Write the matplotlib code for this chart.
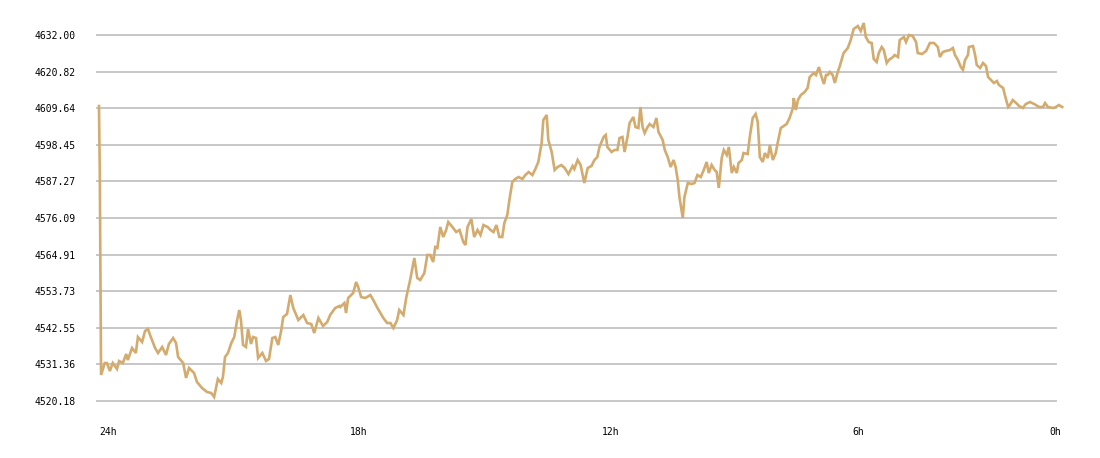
import matplotlib
matplotlib.use("Agg")
import matplotlib.pyplot as plt
import matplotlib.transforms as mtransforms

# hours ago (24h -> 0h) and price
hours_ago = [
    24.00, 23.98, 23.95, 23.86, 23.81, 23.74, 23.67, 23.57, 23.52, 23.43,
    23.35, 23.31, 23.21, 23.12, 23.07, 22.97, 22.90, 22.83, 22.78, 22.66,
    22.59, 22.49, 22.40, 22.33, 22.23, 22.16, 22.11, 21.99, 21.92, 21.85,
    21.73, 21.66, 21.54, 21.42, 21.32, 21.25, 21.16, 21.08, 21.04, 20.99,
    20.92, 20.84, 20.77, 20.70, 20.65, 20.61, 20.56, 20.49, 20.44, 20.37,
    20.32, 20.25, 20.20, 20.10, 20.01, 19.94, 19.86, 19.79, 19.72, 19.65,
    19.60, 19.51, 19.43, 19.36, 19.24, 19.12, 19.03, 18.93, 18.86, 18.76,
    18.65, 18.55, 18.48, 18.36, 18.26,
    18.24, 18.14, 18.10, 18.05, 17.93, 17.86, 17.81, 17.74, 17.64, 17.52,
    17.45, 17.35, 17.28, 17.21, 17.12, 17.04, 16.97, 16.88, 16.83, 16.73,
    16.66, 16.57, 16.47, 16.40, 16.33, 16.23, 16.16, 16.09, 16.02, 15.97,
    15.92, 15.85, 15.78, 15.71, 15.66, 15.56, 15.47, 15.39, 15.30, 15.25,
    15.20, 15.11, 15.04, 14.96, 14.89, 14.82, 14.72, 14.65, 14.58, 14.51,
    14.44, 14.37, 14.32, 14.25, 14.20, 14.13, 14.06, 13.98, 13.89, 13.82,
    13.74, 13.65, 13.58, 13.51, 13.43, 13.39, 13.31, 13.27, 13.19, 13.12,
    13.05, 12.96, 12.88, 12.79, 12.69, 12.65, 12.57, 12.50, 12.41, 12.33,
    12.24, 12.17, 12.10, 12.05,
    11.95, 11.90, 11.86, 11.76, 11.69, 11.62, 11.57, 11.50, 11.45, 11.38,
    11.33, 11.24, 11.19, 11.12, 11.07, 11.02, 10.97, 10.90, 10.85, 10.76,
    10.69, 10.64, 10.54, 10.49, 10.42, 10.35, 10.28, 10.23, 10.18, 10.14,
    10.06, 10.02, 9.94, 9.85, 9.78, 9.71, 9.63, 9.56, 9.49, 9.44,
    9.37, 9.30, 9.25, 9.20, 9.13, 9.08, 9.01, 8.96, 8.89, 8.84,
    8.77, 8.73, 8.65, 8.61, 8.51, 8.46, 8.39, 8.32, 8.27, 8.22,
    8.15, 8.10, 8.03, 7.98, 7.91, 7.84, 7.79, 7.72, 7.65, 7.58,
    7.51, 7.43, 7.41, 7.36, 7.31, 7.24, 7.15, 7.08, 7.03, 6.93,
    6.88, 6.81, 6.76, 6.69, 6.64, 6.60, 6.55,
    6.48, 6.43, 6.36, 6.31, 6.22, 6.12, 6.05, 5.98, 5.88, 5.81,
    5.74, 5.69, 5.62, 5.55, 5.50, 5.43, 5.38, 5.31, 5.26, 5.19,
    5.14, 5.04, 5.00, 4.92, 4.88, 4.78, 4.73, 4.66, 4.57, 4.49,
    4.45, 4.35, 4.25, 4.16, 4.06, 3.97, 3.92, 3.85, 3.78, 3.68,
    3.61, 3.56, 3.49, 3.42, 3.37, 3.32, 3.25, 3.23, 3.13, 3.08,
    3.04, 2.96, 2.89, 2.82, 2.77, 2.70, 2.63, 2.56, 2.51, 2.41,
    2.37, 2.29, 2.25, 2.18, 2.10, 2.03, 1.94, 1.87, 1.77, 1.67,
    1.55, 1.46, 1.41, 1.34, 1.22, 1.15, 1.08, 1.00,
]

price = [
    4610.31, 4589.84, 4528.13, 4531.79, 4531.79, 4529.35, 4531.79, 4529.96, 4532.40, 4531.79,
    4534.54, 4532.71, 4536.38, 4534.85, 4539.73, 4538.21, 4541.56, 4542.18, 4540.34, 4536.38,
    4534.85, 4536.68, 4534.24, 4537.60, 4539.43, 4537.90, 4533.62, 4531.79, 4527.21, 4530.27,
    4528.74, 4525.99, 4524.16, 4522.93, 4522.63, 4521.41, 4526.91, 4525.68, 4527.52, 4533.62,
    4534.85, 4537.90, 4539.73, 4544.93, 4547.98, 4544.93, 4537.29, 4536.68, 4542.18, 4537.60,
    4539.73, 4539.43, 4533.32, 4534.85, 4532.40, 4533.01, 4539.43, 4539.73, 4537.29, 4541.56,
    4545.84, 4546.76, 4552.56, 4548.59, 4544.93, 4546.45, 4544.01, 4543.70, 4540.95, 4545.54,
    4543.09, 4544.31, 4546.45, 4548.59, 4549.21,
    4548.90, 4550.12, 4547.07, 4551.65, 4553.18, 4556.54, 4555.01, 4551.95, 4551.65, 4552.56,
    4551.04, 4548.59, 4547.07, 4545.54, 4544.01, 4544.01, 4542.48, 4544.93, 4547.98, 4546.45,
    4551.95, 4557.15, 4563.87, 4557.76, 4557.15, 4559.29, 4564.79, 4564.79, 4562.65, 4567.23,
    4566.93, 4573.34, 4570.29, 4572.42, 4574.86, 4573.34, 4571.81, 4572.42, 4568.76, 4567.84,
    4573.34, 4575.79, 4570.29, 4572.42, 4570.90, 4573.95, 4573.34, 4572.42, 4571.81, 4573.95,
    4570.29, 4570.29, 4574.56, 4577.01, 4581.59, 4587.09, 4588.01, 4588.62, 4588.01, 4589.23,
    4590.14, 4589.23, 4591.06, 4593.20, 4599.00, 4606.03, 4607.56, 4599.92, 4596.26, 4590.76,
    4591.67, 4592.28, 4591.37, 4589.53, 4591.98, 4591.06, 4593.81, 4592.28, 4586.78, 4591.37,
    4591.98, 4593.81, 4594.73, 4597.78,
    4600.84, 4601.45, 4597.78, 4596.26, 4596.87, 4596.87, 4600.53, 4600.84, 4596.26, 4600.84,
    4605.12, 4606.95, 4603.89, 4603.59, 4610.00, 4603.89, 4602.06, 4603.89, 4604.81, 4603.89,
    4606.64, 4602.37, 4599.92, 4596.87, 4594.73, 4591.67, 4593.81, 4591.67, 4587.70, 4582.51,
    4576.09, 4582.51, 4586.78, 4586.48, 4586.78, 4589.23, 4588.62, 4590.76, 4593.20, 4589.84,
    4592.28, 4590.76, 4590.14, 4585.26, 4594.42, 4596.87, 4595.34, 4597.78, 4589.84, 4591.67,
    4589.84, 4592.89, 4593.81, 4595.95, 4595.65, 4600.84, 4606.64, 4607.87, 4605.42, 4594.73,
    4593.20, 4595.95, 4594.42, 4598.39, 4593.81, 4595.95, 4599.31, 4603.59, 4604.20, 4604.81,
    4606.64, 4609.70, 4612.75, 4609.09, 4612.14, 4613.67, 4614.59, 4615.81, 4619.17, 4620.39,
    4619.78, 4622.22, 4619.78, 4617.03, 4619.78, 4619.78, 4620.70,
    4619.78, 4617.34, 4620.70, 4622.53, 4626.50, 4628.03, 4630.47, 4633.83, 4634.75, 4633.22,
    4635.67, 4631.39, 4629.86, 4629.56, 4624.67, 4623.75, 4626.50, 4628.33, 4627.42, 4623.45,
    4624.36, 4625.28, 4625.89, 4625.28, 4630.47, 4631.39, 4629.86, 4632.00, 4631.69, 4629.86,
    4626.50, 4626.20, 4627.11, 4629.56, 4629.56, 4628.33, 4625.28, 4626.81, 4627.11, 4627.42,
    4628.03, 4625.89, 4624.36, 4622.22, 4621.31, 4624.36, 4625.89, 4628.33, 4628.64, 4625.89,
    4622.84, 4621.92, 4623.45, 4622.53, 4619.17, 4618.25, 4617.34, 4617.95, 4616.73, 4615.81,
    4613.67, 4610.00, 4610.61, 4612.14, 4611.22, 4610.31, 4609.70, 4610.92, 4611.53, 4610.92,
    4610.00, 4610.00, 4611.22, 4610.00, 4609.70, 4610.00, 4610.61, 4610.00,
]

y_ticks = [4520.18, 4531.36, 4542.55, 4553.73, 4564.91, 4576.09,
           4587.27, 4598.45, 4609.64, 4620.82, 4632.00]
x_ticks = [24, 18, 12, 6]
x_labels = ["24h", "18h", "12h", "6h"]

line_color = "#d4ab6e"
grid_color = "#c3c3c3"
font = "DejaVu Sans Mono"

fig = plt.figure(figsize=(11, 4.58), dpi=100)
ax = fig.add_axes([0.0873, 0.1048, 0.8791, 0.8624])

ax.set_xlim(24.07, 0.98)
ax.set_ylim(4517.43, 4638.11)

for v in y_ticks:
    ax.axhline(v, xmin=0, xmax=0.993, color=grid_color, lw=1.3, zorder=1)

ax.plot(hours_ago, price, color=line_color, lw=1.9, zorder=3,
        solid_joinstyle="miter", clip_on=False)

ax.set_yticks(y_ticks)
ax.set_yticklabels([f"{v:.2f}" for v in y_ticks], fontfamily=font, fontsize=7)
ax.tick_params(axis="y", length=0, pad=14.5)
ax.set_xticks([])

# x labels sit left-aligned on their hour mark, "0h" at the right edge
trans = mtransforms.blended_transform_factory(ax.transData, ax.transAxes)
for h, lab in zip(x_ticks, x_labels):
    ax.text(h, -0.056, lab, transform=trans, ha="left", va="center",
            fontfamily=font, fontsize=7)
ax.text(0.998, -0.056, "0h", transform=ax.transAxes, ha="right", va="center",
        fontfamily=font, fontsize=7)

for s in ax.spines.values():
    s.set_visible(False)

fig.savefig("out.png", dpi=100, facecolor="white")
